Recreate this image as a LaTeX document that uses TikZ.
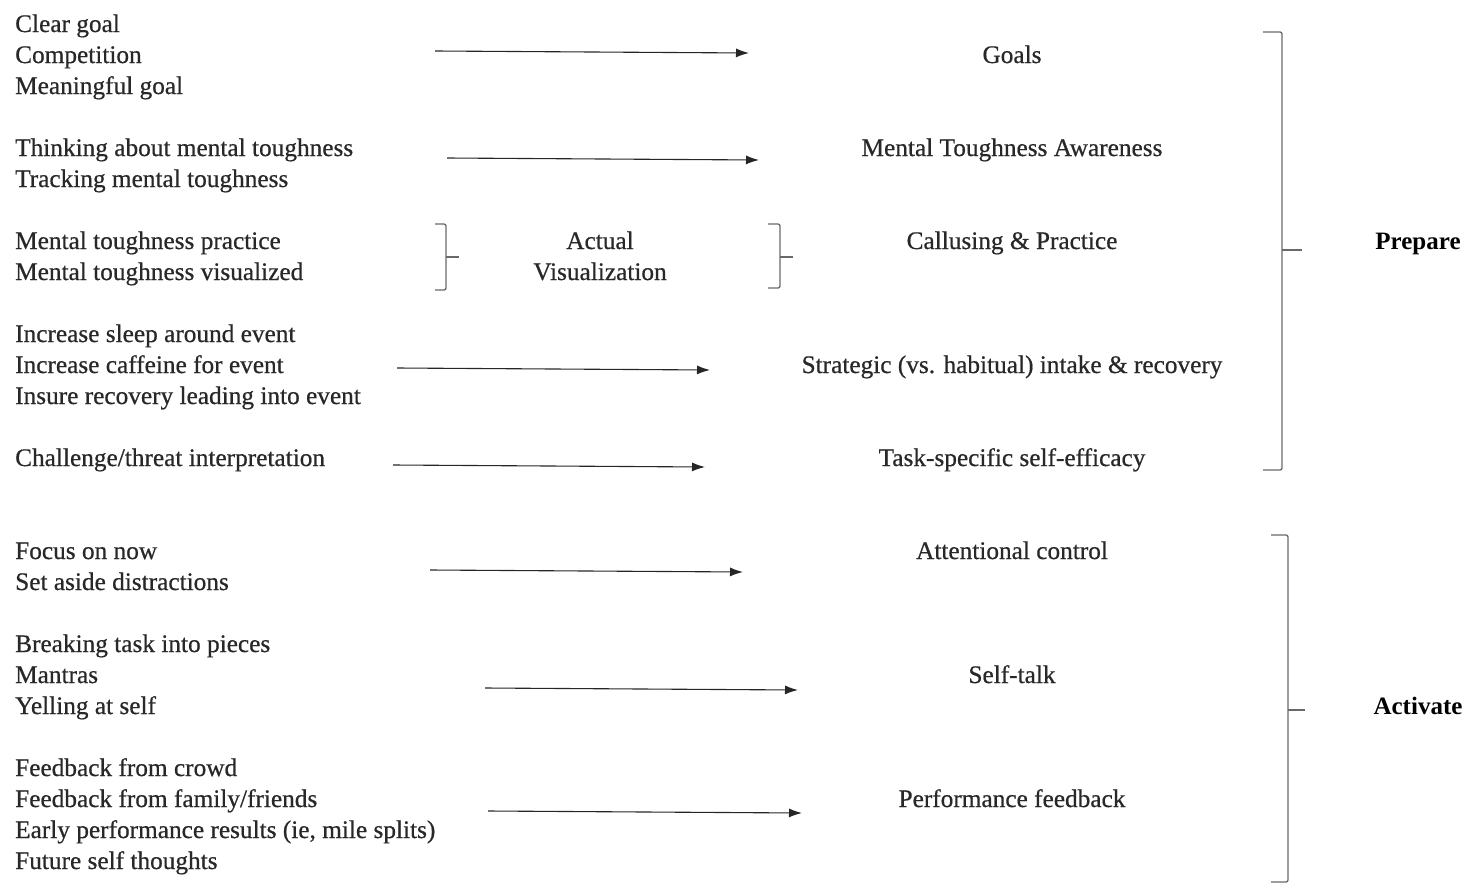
\documentclass[tikz,border=0pt]{standalone}
\usepackage{fontspec}
\setmainfont{Liberation Serif}
\newfontfamily\heavy[FakeBold=0.6]{Liberation Serif}
\usetikzlibrary{arrows.meta}
\definecolor{txt}{RGB}{40,40,40}
\definecolor{brc}{RGB}{105,105,105}
\tikzset{
  lbl/.style={anchor=base west, inner sep=0pt, text=txt, font=\heavy\fontsize{25.3}{30}\selectfont},
  ctr/.style={anchor=base, inner sep=0pt, text=txt, font=\heavy\fontsize{25.3}{30}\selectfont},
  bold/.style={anchor=base, inner sep=0pt, text=black, font=\fontsize{25}{30}\selectfont\bfseries},
  arr/.style={-{Latex[length=13pt,width=9pt]}, line width=1.1pt, draw=black!85},
  brace/.style={draw=brc, line width=1.3pt, rounded corners=2pt}
}
\begin{document}
\begin{tikzpicture}[x=1pt,y=-1pt]
\useasboundingbox (0,0) rectangle (1470,886);
% left column
\node[lbl] (l1) at (15,32) {Clear goal};
\node[lbl] (l2) at (15,63) {Competition};
\node[lbl] (l3) at (15,94) {Meaningful goal};
\node[lbl] (l4) at (15,156) {Thinking about mental toughness};
\node[lbl] (l5) at (15,187) {Tracking mental toughness};
\node[lbl] (l6) at (15,249) {Mental toughness practice};
\node[lbl] (l7) at (15,280) {Mental toughness visualized};
\node[lbl] (l8) at (15,342) {Increase sleep around event};
\node[lbl] (l9) at (15,373) {Increase caffeine for event};
\node[lbl] (l10) at (15,404) {Insure recovery leading into event};
\node[lbl] (l11) at (15,466) {Challenge/threat interpretation};
\node[lbl] (l12) at (15,559) {Focus on now};
\node[lbl] (l13) at (15,590) {Set aside distractions};
\node[lbl] (l14) at (15,652) {Breaking task into pieces};
\node[lbl] (l15) at (15,683) {Mantras};
\node[lbl] (l16) at (15,714) {Yelling at self};
\node[lbl] (l17) at (15,776) {Feedback from crowd};
\node[lbl] (l18) at (15,807) {Feedback from family/friends};
\node[lbl] (l19) at (15,838) {Early performance results (ie, mile splits)};
\node[lbl] (l20) at (15,869) {Future self thoughts};
% middle
\node[ctr] (m1) at (600,249) {Actual};
\node[ctr] (m2) at (600,280) {Visualization};
% right column
\node[ctr] (r1) at (1012,63) {Goals};
\node[ctr] (r2) at (1012,156) {Mental Toughness Awareness};
\node[ctr] (r3) at (1012,249) {Callusing \& Practice};
\node[ctr] (r4) at (1012,373) {Strategic (vs. habitual) intake \& recovery};
\node[ctr] (r5) at (1012,466) {Task-specific self-efficacy};
\node[ctr] (r6) at (1012,559) {Attentional control};
\node[ctr] (r7) at (1012,683) {Self-talk};
\node[ctr] (r8) at (1012,807) {Performance feedback};
% group labels
\node[bold] (p) at (1418,249) {Prepare};
\node[bold] (a) at (1418,714) {Activate};
% arrows
\coordinate (a1s) at (435,51);  \coordinate (a1e) at (749,53);
\coordinate (a2s) at (447,158); \coordinate (a2e) at (759,160);
\coordinate (a3s) at (397,368); \coordinate (a3e) at (710,370);
\coordinate (a4s) at (393,465); \coordinate (a4e) at (705,467);
\coordinate (a5s) at (430,570); \coordinate (a5e) at (743,572);
\coordinate (a6s) at (485,688); \coordinate (a6e) at (798,690);
\coordinate (a7s) at (488,811); \coordinate (a7e) at (802,813);
\draw[arr] (a1s) -- (a1e);
\draw[arr] (a2s) -- (a2e);
\draw[arr] (a3s) -- (a3e);
\draw[arr] (a4s) -- (a4e);
\draw[arr] (a5s) -- (a5e);
\draw[arr] (a6s) -- (a6e);
\draw[arr] (a7s) -- (a7e);
% small braces
\draw[brace] (435,224) -- (446,224) -- (446,290) -- (435,290);
\draw[brace, rounded corners=0pt] (446,257) -- (459,257);
\draw[brace] (768,224) -- (780,224) -- (780,288) -- (768,288);
\draw[brace, rounded corners=0pt] (780,257) -- (793,257);
% big braces
\draw[brace] (1263,32) -- (1282,32) -- (1282,470) -- (1263,470);
\draw[brace, rounded corners=0pt] (1282,250) -- (1302,250);
\draw[brace] (1271,535) -- (1288,535) -- (1288,882) -- (1271,882);
\draw[brace, rounded corners=0pt] (1288,710) -- (1305,710);
\end{tikzpicture}
\end{document}
